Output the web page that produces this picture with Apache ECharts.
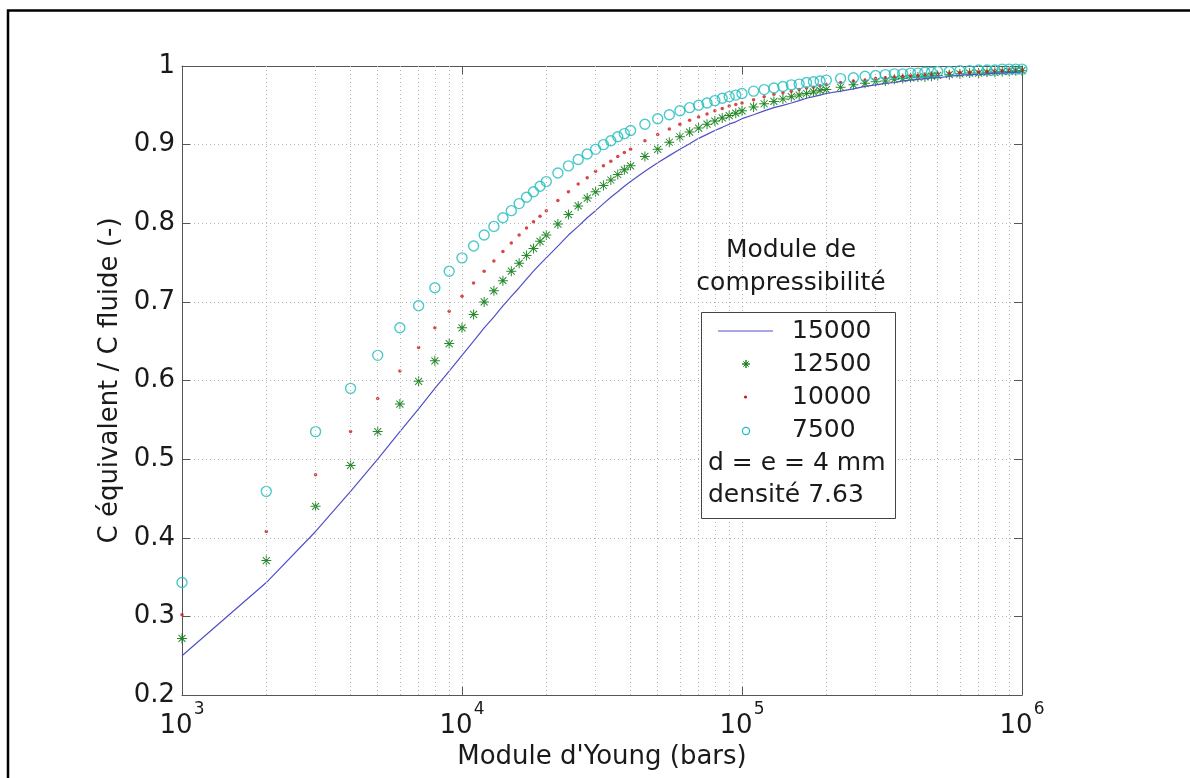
<!DOCTYPE html>
<html>
<head>
<meta charset="utf-8">
<script src="https://cdn.jsdelivr.net/npm/echarts@6/dist/echarts.min.js"></script>
<style>
  html, body { margin: 0; padding: 0; background: #ffffff; }
  #chart { width: 1190px; height: 778px; }
</style>
</head>
<body>
<div id="chart"></div>
<script>
// Young's modulus (bars) at which each curve is sampled
const youngModulus = [
  1000, 2000, 3000, 4000, 5000, 6000, 7000, 8000, 9000, 10000,
  11000, 12000, 13000, 14000, 15000, 16000, 17000, 18000, 19000, 20000,
  22000, 24000, 26000, 28000, 30000, 32000, 34000, 36000, 38000, 40000,
  45000, 50000, 55000, 60000, 65000, 70000, 75000, 80000, 85000, 90000, 95000, 100000,
  110000, 120000, 130000, 140000, 150000, 160000, 170000, 180000, 190000, 200000,
  225000, 250000, 275000, 300000, 325000, 350000, 375000, 400000, 425000, 450000, 475000, 500000,
  550000, 600000, 650000, 700000, 750000, 800000, 850000, 900000, 950000, 1000000
];

// C équivalent / C fluide for each bulk modulus
const ratio15000 = [
  0.250, 0.343, 0.408, 0.459, 0.500, 0.535, 0.564, 0.590, 0.612, 0.632,
  0.650, 0.667, 0.681, 0.695, 0.707, 0.718, 0.729, 0.739, 0.748, 0.756,
  0.771, 0.785, 0.796, 0.807, 0.816, 0.825, 0.833, 0.840, 0.847, 0.853,
  0.866, 0.877, 0.886, 0.894, 0.901, 0.908, 0.913, 0.918, 0.922, 0.926, 0.929, 0.933,
  0.938, 0.943, 0.947, 0.950, 0.953, 0.956, 0.959, 0.961, 0.963, 0.965,
  0.968, 0.971, 0.974, 0.976, 0.978, 0.979, 0.981, 0.982, 0.983, 0.984, 0.985, 0.985,
  0.987, 0.988, 0.989, 0.989, 0.990, 0.991, 0.991, 0.992, 0.992, 0.993
];
const ratio12500 = [
  0.272, 0.371, 0.440, 0.492, 0.535, 0.570, 0.599, 0.625, 0.647, 0.667,
  0.684, 0.700, 0.714, 0.727, 0.739, 0.749, 0.759, 0.768, 0.777, 0.785,
  0.799, 0.811, 0.822, 0.832, 0.840, 0.848, 0.855, 0.862, 0.868, 0.873,
  0.885, 0.894, 0.903, 0.910, 0.916, 0.921, 0.926, 0.930, 0.934, 0.937, 0.940, 0.943,
  0.948, 0.952, 0.955, 0.958, 0.961, 0.963, 0.965, 0.967, 0.969, 0.970,
  0.973, 0.976, 0.978, 0.980, 0.981, 0.983, 0.984, 0.985, 0.986, 0.986, 0.987, 0.988,
  0.989, 0.990, 0.991, 0.991, 0.992, 0.992, 0.993, 0.993, 0.994, 0.994
];
const ratio10000 = [
  0.302, 0.408, 0.480, 0.535, 0.577, 0.612, 0.642, 0.667, 0.688, 0.707,
  0.724, 0.739, 0.752, 0.764, 0.775, 0.785, 0.794, 0.802, 0.809, 0.816,
  0.829, 0.840, 0.850, 0.858, 0.866, 0.873, 0.879, 0.885, 0.890, 0.894,
  0.905, 0.913, 0.920, 0.926, 0.931, 0.935, 0.939, 0.943, 0.946, 0.949, 0.951, 0.953,
  0.957, 0.961, 0.964, 0.966, 0.968, 0.970, 0.972, 0.973, 0.975, 0.976,
  0.979, 0.981, 0.982, 0.984, 0.985, 0.986, 0.987, 0.988, 0.988, 0.989, 0.990, 0.990,
  0.991, 0.992, 0.992, 0.993, 0.993, 0.994, 0.994, 0.995, 0.995, 0.995
];
const ratio7500 = [
  0.343, 0.459, 0.535, 0.590, 0.632, 0.667, 0.695, 0.718, 0.739, 0.756,
  0.771, 0.785, 0.796, 0.807, 0.816, 0.825, 0.833, 0.840, 0.847, 0.853,
  0.864, 0.873, 0.881, 0.888, 0.894, 0.900, 0.905, 0.910, 0.914, 0.918,
  0.926, 0.933, 0.938, 0.943, 0.947, 0.950, 0.953, 0.956, 0.959, 0.961, 0.963, 0.965,
  0.968, 0.970, 0.972, 0.974, 0.976, 0.977, 0.979, 0.980, 0.981, 0.982,
  0.984, 0.985, 0.987, 0.988, 0.989, 0.990, 0.990, 0.991, 0.991, 0.992, 0.992, 0.993,
  0.993, 0.994, 0.994, 0.995, 0.995, 0.995, 0.996, 0.996, 0.996, 0.996
];

const seriesNames = ['15000', '12500', '10000', '7500'];
const legendTitle = ['Module de', 'compressibilité'];
const legendNotes = ['d = e = 4 mm', 'densité 7.63'];
const xTickValues = [1000, 10000, 100000, 1000000];
const xTickExponents = ['3', '4', '5', '6'];
const minorGridX = [
  2000, 3000, 4000, 5000, 6000, 7000, 8000, 9000,
  20000, 30000, 40000, 50000, 60000, 70000, 80000, 90000,
  200000, 300000, 400000, 500000, 600000, 700000, 800000, 900000
];

const FONT = 'DejaVu Sans';
const TEXT = '#1a1a1a';
const COLORS = { line: '#5050c8', star: '#0f7d16', dot: '#d01818', ring: '#1fbcbc' };

const pairs = (ys) => youngModulus.map((x, i) => [x, ys[i]]);

// power-of-ten label for a decade tick
const decadeLabel = (v) => {
  let k = 0, best = Infinity;
  xTickValues.forEach((t, i) => {
    const d = Math.abs(Math.log10(t) - Math.log10(v));
    if (d < best) { best = d; k = i; }
  });
  return '{b|10}{s|' + xTickExponents[k] + '}';
};

// asterisk marker: plus + diagonal cross
const STAR = 'path://M9,0H11V9H20V11H11V20H9V11H0V9H9Z' +
             'M2.3,3.7L3.7,2.3L17.7,16.3L16.3,17.7Z' +
             'M16.3,2.3L17.7,3.7L3.7,17.7L2.3,16.3Z';

const chart = echarts.init(document.getElementById('chart'), null, { renderer: 'canvas' });

const dotted = { color: '#b4b4b4', width: 1, type: [1, 3] };
const boxAxis = { show: true, lineStyle: { color: '#555', width: 1 } };
const boxTick = { show: true, inside: true, length: 8, lineStyle: { color: '#555' } };

const option = {
  backgroundColor: '#ffffff',
  animation: false,
  textStyle: { fontFamily: FONT, color: TEXT },
  grid: { left: 182, right: 168, top: 66, bottom: 83, containLabel: false },
  xAxis: [
    {
      type: 'log', logBase: 10, min: 1000, max: 1000000, splitNumber: 3,
      position: 'bottom',
      name: "Module d'Young (bars)",
      nameLocation: 'middle', nameGap: 48,
      nameTextStyle: { fontFamily: FONT, fontSize: 26, color: TEXT },
      axisLine: boxAxis,
      axisTick: boxTick,
      splitLine: { show: true, lineStyle: dotted },
      axisLabel: {
        margin: 6,
        formatter: decadeLabel,
        rich: {
          b: { fontFamily: FONT, fontSize: 26, color: TEXT, verticalAlign: 'bottom' },
          s: { fontFamily: FONT, fontSize: 17, color: TEXT, padding: [0, 0, 21, 1] }
        }
      }
    },
    {
      type: 'log', logBase: 10, min: 1000, max: 1000000, splitNumber: 3,
      position: 'top',
      axisLine: boxAxis, axisTick: boxTick,
      axisLabel: { show: false },
      splitLine: { show: false }
    }
  ],
  yAxis: [
    {
      type: 'value', min: 0.2, max: 1, interval: 0.1,
      position: 'left',
      name: 'C équivalent / C fluide (-)',
      nameLocation: 'middle', nameGap: 58, nameRotate: 90,
      nameTextStyle: { fontFamily: FONT, fontSize: 26, color: TEXT },
      axisLine: boxAxis, axisTick: boxTick,
      splitLine: { show: true, lineStyle: dotted },
      axisLabel: { margin: 7, fontFamily: FONT, fontSize: 26, color: TEXT }
    },
    {
      type: 'value', min: 0.2, max: 1, interval: 0.1,
      position: 'right',
      axisLine: boxAxis, axisTick: boxTick,
      axisLabel: { show: false },
      splitLine: { show: false }
    }
  ],
  series: [
    {
      // minor log grid lines
      type: 'line', data: [], z: 1, silent: true,
      markLine: {
        silent: true, symbol: 'none', label: { show: false },
        lineStyle: dotted,
        data: minorGridX.map(v => ({ xAxis: v }))
      }
    },
    {
      name: seriesNames[0], type: 'line', data: pairs(ratio15000),
      showSymbol: false, symbol: 'none', smooth: false,
      lineStyle: { color: COLORS.line, width: 1.2 }
    },
    {
      name: seriesNames[1], type: 'scatter', data: pairs(ratio12500),
      symbol: STAR, symbolSize: 10,
      itemStyle: { color: COLORS.star, opacity: 0.9 }
    },
    {
      name: seriesNames[2], type: 'scatter', data: pairs(ratio10000),
      symbol: 'circle', symbolSize: 3.5,
      itemStyle: { color: COLORS.dot }
    },
    {
      name: seriesNames[3], type: 'scatter', data: pairs(ratio7500),
      symbol: 'circle', symbolSize: 10,
      itemStyle: { color: 'rgba(0,0,0,0)', borderColor: COLORS.ring, borderWidth: 1.4 }
    }
  ],
  graphic: [
    // page frame
    { type: 'rect', z: 0, silent: true,
      shape: { x: 8, y: 10.5, width: 1300, height: 900 },
      style: { fill: 'none', stroke: '#000', lineWidth: 2.5 } },
    // legend heading
    { type: 'text', z: 100, x: 791, y: 250,
      style: { text: legendTitle[0], font: '25px "DejaVu Sans"', fill: TEXT, align: 'center', verticalAlign: 'middle' } },
    { type: 'text', z: 100, x: 791, y: 283,
      style: { text: legendTitle[1], font: '25px "DejaVu Sans"', fill: TEXT, align: 'center', verticalAlign: 'middle' } },
    // legend box
    { type: 'rect', z: 100,
      shape: { x: 701.5, y: 312.5, width: 194, height: 206 },
      style: { fill: '#ffffff', stroke: '#444', lineWidth: 1 } },
    // icons
    { type: 'line', z: 101, shape: { x1: 718, y1: 331, x2: 773, y2: 331 },
      style: { stroke: COLORS.line, lineWidth: 1.2 } },
    { type: 'line', z: 101, shape: { x1: 746, y1: 360, x2: 746, y2: 368 }, style: { stroke: COLORS.star, lineWidth: 1.4 } },
    { type: 'line', z: 101, shape: { x1: 742, y1: 364, x2: 750, y2: 364 }, style: { stroke: COLORS.star, lineWidth: 1.4 } },
    { type: 'line', z: 101, shape: { x1: 743.3, y1: 361.3, x2: 748.7, y2: 366.7 }, style: { stroke: COLORS.star, lineWidth: 1 } },
    { type: 'line', z: 101, shape: { x1: 748.7, y1: 361.3, x2: 743.3, y2: 366.7 }, style: { stroke: COLORS.star, lineWidth: 1 } },
    { type: 'circle', z: 101, shape: { cx: 745.5, cy: 397, r: 1.6 }, style: { fill: COLORS.dot } },
    { type: 'circle', z: 101, shape: { cx: 746, cy: 431, r: 3.6 }, style: { fill: 'none', stroke: COLORS.ring, lineWidth: 1.2 } },
    // entry labels
    ...seriesNames.map((n, i) => ({
      type: 'text', z: 101, x: 792, y: 331 + i * 33.3,
      style: { text: n, font: '25px "DejaVu Sans"', fill: TEXT, align: 'left', verticalAlign: 'middle' }
    })),
    ...legendNotes.map((n, i) => ({
      type: 'text', z: 101, x: 708, y: 463 + i * 32,
      style: { text: n, font: '25px "DejaVu Sans"', fill: TEXT, align: 'left', verticalAlign: 'middle' }
    }))
  ]
};

chart.setOption(option);
</script>
</body>
</html>
